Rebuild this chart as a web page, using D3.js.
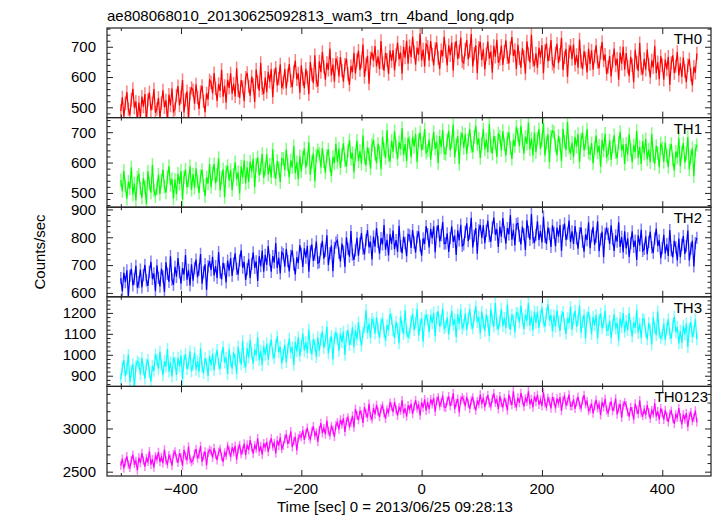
<!DOCTYPE html>
<html><head><meta charset="utf-8">
<script src="https://cdn.jsdelivr.net/npm/d3@7"></script>
<style>body{margin:0;background:#fff}svg{display:block}text{font-family:"Liberation Sans",Arial,Helvetica,sans-serif}</style>
</head><body><svg id="c" width="717" height="516"></svg>
<script>
const titleText = "ae808068010_20130625092813_wam3_trn_4band_long.qdp";
const xLabel = "Time [sec] 0 = 2013/06/25 09:28:13";
const yLabel = "Counts/sec";
const tStart = -500, binSize = 2.5;
const seriesNames = ["TH0","TH1","TH2","TH3","TH0123"];
const seriesColors = ["#ff0000","#00ff00","#0000ff","#00ffff","#ff00ff"];
const seriesErr = [22, 22, 22, 28, 50];
const yDomains = [[466,762],[453,748],[586,908],[849,1277],[2450,3487]];
const yMajorTicks = [[500,600,700],[500,600,700],[600,700,800,900],[900,1000,1100,1200],[2500,3000]];
const yMinorStep = [20,20,20,20,100];
const xDomain = [-523, 481];
const xMajorTicks = [-400,-200,0,200,400];
const xMinorTicks = [-500,-300,-100,100,300];

const TH0 = [
488,533,469,513,550,494,474,525,561,499,519,455,
516,468,535,502,544,451,524,549,490,513,560,482,
495,531,464,514,556,500,523,453,542,506,562,486,
494,539,570,506,534,590,483,525,553,461,545,564,
557,512,576,532,495,551,571,520,484,546,526,590,
582,546,613,563,521,577,554,624,535,571,515,591,
564,612,545,578,536,629,556,531,590,567,520,598,
614,569,538,602,574,518,625,583,555,647,563,544,
598,550,617,584,626,533,606,631,572,595,642,564,
581,626,562,606,643,587,567,618,654,592,612,548,
639,594,563,627,599,543,650,608,580,672,588,569,
652,616,683,633,591,647,624,694,605,641,585,661,
647,602,666,622,585,641,661,610,574,636,616,680,
611,656,687,623,651,707,600,642,670,578,662,681,
654,702,635,668,626,719,646,621,680,657,610,688,
653,689,622,672,714,658,681,611,700,664,720,644,
702,666,733,683,641,697,674,744,655,691,635,711,
700,655,719,675,638,694,714,663,627,689,669,733,
686,638,705,672,714,621,694,719,660,683,730,652,
646,691,722,658,686,742,635,677,705,613,697,716,
656,692,625,675,717,661,684,614,703,667,723,647,
659,704,640,684,721,665,645,696,732,670,690,626,
707,662,631,695,667,611,718,676,648,740,656,637,
678,630,697,664,706,613,686,711,652,675,722,644,
634,679,710,646,674,730,623,665,693,601,685,704,
659,707,640,673,631,724,651,626,685,662,615,693,
643,688,624,668,705,649,629,680,716,654,674,610,
633,669,602,652,694,638,661,591,680,644,700,624,
679,634,603,667,639,583,690,648,620,712,628,609,
660,624,691,641,599,655,632,702,613,649,593,669,
639,591,658,625,667,574,647,672,613,636,683,605,
645,600,664,620,583,639,659,608,572,634,614,678];
const TH1 = [
542,506,573,523,481,537,514,584,495,531,475,551,
560,515,484,548,520,464,571,529,501,593,509,490,
515,560,496,540,577,521,501,552,588,526,546,482,
544,496,563,530,572,479,552,577,518,541,588,510,
562,517,581,537,500,556,576,525,489,551,531,595,
519,564,595,531,559,615,508,550,578,486,570,589,
540,576,509,559,601,545,568,498,587,551,607,531,
584,536,603,570,612,519,592,617,558,581,628,550,
579,627,560,593,551,644,571,546,605,582,535,613,
612,576,643,593,551,607,584,654,565,601,545,621,
571,616,647,583,611,667,560,602,630,538,622,641,
629,584,648,604,567,623,643,592,556,618,598,662,
601,646,582,626,663,607,587,638,674,612,632,568,
624,672,605,638,596,689,616,591,650,627,580,658,
674,629,598,662,634,578,685,643,615,707,623,604,
672,636,703,653,611,667,644,714,625,661,605,681,
666,618,685,652,694,601,674,699,640,663,710,632,
640,676,609,659,701,645,668,598,687,651,707,631,
628,673,704,640,668,724,617,659,687,595,679,698,
648,693,629,673,710,654,634,685,721,659,679,615,
662,710,643,676,634,727,654,629,688,665,618,696,
685,640,704,660,623,679,699,648,612,674,654,718,
690,654,721,671,629,685,662,732,643,679,623,699,
634,679,710,646,674,730,623,665,693,601,685,704,
700,655,624,688,660,604,711,669,641,733,649,630,
666,618,685,652,694,601,674,699,640,663,710,632,
628,664,597,647,689,633,656,586,675,639,695,619,
628,673,609,653,690,634,614,665,701,639,659,595,
662,626,693,643,601,657,634,704,615,651,595,671,
629,677,610,643,601,694,621,596,655,632,585,663,
647,602,666,622,585,641,661,610,574,636,616,680,
588,633,664,600,628,684,577,619,647,555,639,658];
const TH2 = [
653,605,672,639,681,588,661,686,627,650,697,619,
639,684,620,664,701,645,625,676,712,650,670,606,
699,654,623,687,659,603,710,668,640,732,648,629,
694,658,725,675,633,689,666,736,647,683,627,703,
644,689,720,656,684,740,633,675,703,611,695,714,
682,730,663,696,654,747,674,649,708,685,638,716,
680,725,661,705,742,686,666,717,753,691,711,647,
685,721,654,704,746,690,713,643,732,696,752,676,
737,701,768,718,676,732,709,779,690,726,670,746,
739,694,758,714,677,733,753,702,666,728,708,772,
741,693,760,727,769,676,749,774,715,738,785,707,
711,756,787,723,751,807,700,742,770,678,762,781,
789,744,713,777,749,693,800,758,730,822,738,719,
753,798,734,778,815,759,739,790,826,764,784,720,
802,766,833,783,741,797,774,844,755,791,735,811,
776,824,757,790,748,841,768,743,802,779,732,810,
807,762,826,782,745,801,821,770,734,796,776,840,
811,763,830,797,839,746,819,844,785,808,855,777,
778,814,747,797,839,783,806,736,825,789,845,769,
774,819,850,786,814,870,763,805,833,741,825,844,
798,843,779,823,860,804,784,835,871,809,829,765,
838,802,869,819,777,833,810,880,791,827,771,847,
850,805,774,838,810,754,861,819,791,883,799,780,
809,857,790,823,781,874,801,776,835,812,765,843,
816,768,835,802,844,751,824,849,790,813,860,782,
821,776,840,796,759,815,835,784,748,810,790,854,
761,806,837,773,801,857,750,792,820,728,812,831,
812,776,843,793,751,807,784,854,765,801,745,821,
760,796,729,779,821,765,788,718,807,771,827,751,
758,803,739,783,820,764,744,795,831,769,789,725,
761,809,742,775,733,826,753,728,787,764,717,795,
728,773,804,740,768,824,717,759,787,695,779,798];
const TH3 = [
884,939,976,898,932,1000,871,922,956,843,945,969,
960,906,984,930,886,954,977,916,872,947,923,1001,
977,933,1015,953,902,970,943,1028,919,964,896,987,
962,904,986,945,996,884,972,1003,931,958,1016,921,
953,1011,929,970,919,1031,943,912,984,957,899,994,
950,1004,926,980,1024,956,933,994,1038,963,987,909,
1026,971,934,1012,978,910,1039,988,954,1067,965,941,
1032,988,1070,1008,957,1025,998,1083,974,1019,951,1042,
1000,1054,976,1030,1074,1006,983,1044,1088,1013,1037,959,
1003,1047,965,1027,1078,1010,1037,952,1061,1016,1084,993,
1043,1101,1019,1060,1009,1121,1033,1002,1074,1047,989,1084,
1019,1074,1111,1033,1067,1135,1006,1057,1091,978,1080,1104,
1077,1019,1101,1060,1111,999,1087,1118,1046,1073,1131,1036,
1117,1073,1155,1093,1042,1110,1128,1213,1104,1149,1081,1172,
1155,1101,1179,1125,1081,1149,1172,1111,1067,1142,1118,1196,
1171,1116,1079,1157,1123,1055,1184,1133,1099,1212,1110,1086,
1104,1159,1196,1118,1152,1220,1091,1142,1176,1063,1165,1189,
1167,1109,1191,1150,1201,1089,1177,1208,1136,1163,1221,1126,
1135,1179,1097,1159,1210,1142,1169,1084,1193,1148,1216,1125,
1143,1197,1119,1173,1217,1149,1126,1187,1231,1156,1180,1102,
1206,1151,1114,1192,1158,1090,1219,1168,1134,1247,1145,1121,
1161,1219,1137,1178,1127,1239,1151,1120,1192,1165,1107,1202,
1197,1153,1235,1173,1122,1190,1163,1248,1139,1184,1116,1207,
1152,1206,1128,1182,1226,1158,1135,1196,1240,1165,1189,1111,
1188,1134,1212,1158,1114,1182,1205,1144,1100,1175,1151,1229,
1119,1174,1211,1133,1167,1235,1106,1157,1191,1078,1180,1204,
1157,1099,1181,1140,1191,1079,1167,1198,1126,1153,1211,1116,
1118,1162,1080,1142,1193,1125,1152,1067,1176,1131,1199,1108,
1162,1118,1200,1138,1087,1155,1128,1213,1104,1149,1081,1172,
1166,1111,1074,1152,1118,1050,1179,1128,1094,1207,1105,1081,
1095,1149,1071,1125,1169,1101,1078,1139,1183,1108,1132,1054,
1115,1057,1139,1098,1149,1037,1125,1156,1084,1111,1169,1074];
const TH0123 = [
2571,2648,2538,2614,2677,2581,2547,2634,2696,2590,2624,2514,
2663,2601,2716,2630,2558,2654,2615,2735,2582,2644,2548,2678,
2645,2727,2612,2669,2597,2756,2631,2588,2689,2650,2569,2703,
2733,2656,2603,2713,2665,2569,2752,2680,2632,2790,2646,2613,
2632,2709,2762,2652,2700,2796,2613,2685,2733,2575,2719,2752,
2739,2662,2772,2696,2633,2729,2763,2676,2614,2720,2686,2796,
2750,2668,2783,2726,2798,2639,2764,2807,2706,2745,2826,2692,
2813,2751,2866,2780,2708,2804,2765,2885,2732,2794,2698,2828,
2782,2844,2729,2815,2887,2791,2830,2710,2863,2801,2897,2767,
2802,2879,2932,2822,2870,2966,2783,2855,2903,2745,2889,2922,
2901,2978,2868,2944,3007,2911,2877,2964,3026,2920,2954,2844,
2980,3062,2947,3004,2932,3091,2966,2923,3024,2985,2904,3038,
3070,2988,3103,3046,3118,2959,3084,3127,3026,3065,3146,3012,
3228,3151,3098,3208,3160,3064,3247,3175,3127,3285,3141,3108,
3239,3162,3272,3196,3133,3229,3263,3176,3114,3220,3186,3296,
3253,3191,3306,3220,3148,3244,3205,3325,3172,3234,3138,3268,
3222,3284,3169,3255,3327,3231,3270,3150,3303,3241,3337,3207,
3305,3223,3338,3281,3353,3194,3319,3362,3261,3300,3381,3247,
3242,3319,3372,3262,3310,3406,3223,3295,3343,3185,3329,3362,
3334,3257,3367,3291,3228,3324,3358,3271,3209,3315,3281,3391,
3281,3358,3248,3324,3387,3291,3257,3344,3406,3300,3334,3224,
3373,3296,3243,3353,3305,3209,3392,3320,3272,3430,3286,3253,
3358,3296,3411,3325,3253,3349,3310,3430,3277,3339,3243,3373,
3308,3390,3275,3332,3260,3419,3294,3251,3352,3313,3232,3366,
3315,3233,3348,3291,3363,3204,3329,3372,3271,3310,3391,3257,
3261,3338,3228,3304,3367,3271,3237,3324,3386,3280,3314,3204,
3227,3289,3174,3260,3332,3236,3275,3155,3308,3246,3342,3212,
3182,3259,3312,3202,3250,3346,3163,3235,3283,3125,3269,3302,
3268,3191,3138,3248,3200,3104,3287,3215,3167,3325,3181,3148,
3218,3156,3271,3185,3113,3209,3170,3290,3137,3199,3103,3233,
3179,3102,3212,3136,3073,3169,3203,3116,3054,3160,3126,3236,
3130,3048,3163,3106,3178,3019,3144,3187,3086,3125,3206,3072];
const seriesData = [TH0, TH1, TH2, TH3, TH0123];

const svg = d3.select("#c");
const L = 107, R = 711, T = 28, B = 476;
const nP = seriesNames.length;
const pH = (B - T) / nP;
const x = d3.scaleLinear().domain(xDomain).range([L, R]);
const axisCol = "#222";

svg.append("text").attr("x", 107).attr("y", 21).attr("font-size", 15).text(titleText);

seriesData.forEach((vals, p) => {
  const top = T + p * pH, bot = top + pH;
  const y = d3.scaleLinear().domain(yDomains[p]).range([bot, top]);
  const g = svg.append("g");
  const clipId = "clip" + p;
  svg.append("clipPath").attr("id", clipId).append("rect")
    .attr("x", L).attr("y", top).attr("width", R - L).attr("height", pH);
  const pts = vals.map((v, i) => ({t: tStart + i * binSize, v}));
  const dg = g.append("g").attr("clip-path", `url(#${clipId})`);
  dg.selectAll("line.err").data(pts).join("line").attr("class","err")
    .attr("x1", d => x(d.t)).attr("x2", d => x(d.t))
    .attr("y1", d => y(d.v - seriesErr[p])).attr("y2", d => y(d.v + seriesErr[p]))
    .attr("stroke", seriesColors[p]).attr("stroke-opacity", 0.5).attr("stroke-width", 1.5);
  dg.append("path").datum(pts)
    .attr("d", d3.line().x(d => x(d.t)).y(d => y(d.v)))
    .attr("fill", "none").attr("stroke", seriesColors[p]).attr("stroke-width", 1.2);

  const ya = d3.axisRight(y).tickValues(yMajorTicks[p]).tickSize(6).tickFormat("");
  const [d0, d1] = yDomains[p];
  const minors = d3.range(Math.ceil(d0 / yMinorStep[p]) * yMinorStep[p], d1, yMinorStep[p])
    .filter(v => !yMajorTicks[p].includes(v));
  const yam = d3.axisRight(y).tickValues(minors).tickSize(3.5).tickFormat("");
  [[L, 1], [R, -1]].forEach(([xx, dir]) => {
    const a1 = g.append("g").attr("transform", `translate(${xx},0) scale(${dir},1)`).call(ya);
    const a2 = g.append("g").attr("transform", `translate(${xx},0) scale(${dir},1)`).call(yam);
    [a1, a2].forEach(a => { a.select(".domain").remove(); a.selectAll("line").attr("stroke", axisCol).attr("stroke-width", 1); });
  });
  g.selectAll("text.yl").data(yMajorTicks[p]).join("text").attr("class","yl")
    .attr("x", 96).attr("y", d => y(d)).attr("dy", "0.36em").attr("text-anchor", "end")
    .attr("font-size", 15).text(d => d);

  const xaT = d3.axisBottom(x).tickValues(xMajorTicks).tickSize(6).tickFormat("");
  const xaTm = d3.axisBottom(x).tickValues(xMinorTicks).tickSize(3).tickFormat("");
  const xaB = d3.axisTop(x).tickValues(xMajorTicks).tickSize(6).tickFormat("");
  const xaBm = d3.axisTop(x).tickValues(xMinorTicks).tickSize(3).tickFormat("");
  [[xaT, top], [xaTm, top], [xaB, bot], [xaBm, bot]].forEach(([ax, yy]) => {
    const a = g.append("g").attr("transform", `translate(0,${yy})`).call(ax);
    a.select(".domain").remove();
    a.selectAll("line").attr("stroke", axisCol).attr("stroke-width", 1);
  });

  g.append("rect").attr("x", L).attr("y", top).attr("width", R - L).attr("height", pH)
    .attr("fill", "none").attr("stroke", axisCol).attr("stroke-width", 1.2);
  g.append("text").attr("x", p === nP - 1 ? 708 : 702).attr("y", top + 16)
    .attr("text-anchor", "end").attr("font-size", 15).text(seriesNames[p]);
});

svg.selectAll("text.xl").data(xMajorTicks).join("text").attr("class","xl")
  .attr("x", d => x(d)).attr("y", 494).attr("text-anchor", "middle").attr("font-size", 15)
  .text(d => d < 0 ? "\u2212" + Math.abs(d) : d);
svg.append("text").attr("x", 277).attr("y", 512).attr("font-size", 15).text(xLabel);
svg.append("text").attr("transform", "translate(45,252) rotate(-90)")
  .attr("text-anchor", "middle").attr("font-size", 15).text(yLabel);
</script></body></html>
